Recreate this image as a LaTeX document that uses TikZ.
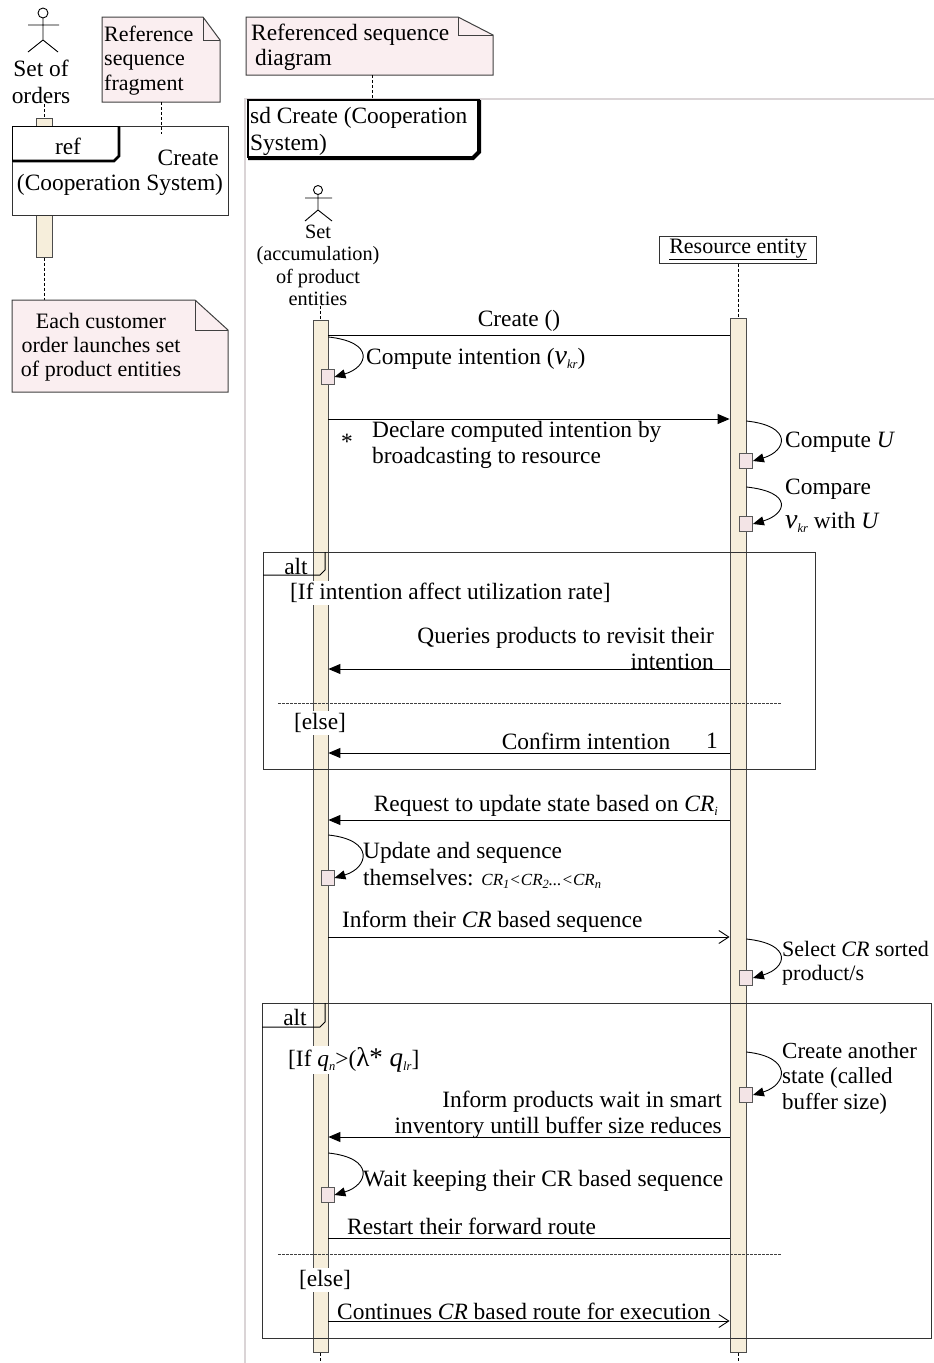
\documentclass[tikz,border=0pt]{standalone}
\usepackage{fontspec}
\setmainfont{Liberation Serif}
\usetikzlibrary{arrows.meta}
\definecolor{barfill}{RGB}{246,238,219}
\definecolor{notefill}{RGB}{250,238,240}
\definecolor{execfill}{RGB}{243,228,230}
\definecolor{framegray}{RGB}{218,212,214}
\newcommand{\lsub}[1]{\raisebox{-0.35ex}{\fontsize{12.5}{12.5}\selectfont\itshape #1}}
\newcommand{\vkr}{{\fontsize{28}{28}\selectfont\itshape v}\lsub{kr}}
\tikzset{
  every node/.style={inner sep=0pt, font=\fontsize{23.4}{26}\selectfont},
  smalltext/.style={font=\fontsize{22}{24.5}\selectfont},
  lifebar/.style={draw=black!70, fill=barfill, line width=0.8pt, minimum width=15pt},
  execbox/.style={draw=black!65, fill=execfill, line width=0.8pt, minimum width=13pt, minimum height=15pt},
  msgfill/.style={draw, line width=0.9pt, -{Triangle[length=12pt,width=10pt]}},
  msgopen/.style={draw, line width=0.9pt, -{Straight Barb[length=10pt,width=13pt,line width=0.9pt]}},
  msgplain/.style={draw, line width=0.9pt},
  selfcall/.style={draw, line width=0.9pt, -{Triangle[length=11pt,width=9pt]}},
  lifedash/.style={draw, line width=0.9pt, dash pattern=on 3pt off 2pt},
  sepline/.style={draw, black!75, line width=0.9pt, dash pattern=on 2.5pt off 1.5pt},
  altframe/.style={draw, black!80, line width=1pt},
  notebody/.style={draw=black!75, fill=notefill, line width=1pt},
  guard/.style={fill=white, inner sep=2pt},
}
\begin{document}
\begin{tikzpicture}[x=1pt,y=-1pt]
\useasboundingbox (0,0) rectangle (934,1363);
\fill[white] (0,0) rectangle (934,1363);

% ---------------- left part ----------------
% actor "Set of orders"
\draw[line width=0.9pt] (43,13) circle (5);
\draw[line width=0.9pt] (43,18) -- (43,40) (28,25) -- (59,25) (28,52) -- (43,40) -- (58,52);
\node[align=center, font=\fontsize{23.4}{27}\selectfont] (ordlbl) at (41,81.5) {Set of\\orders};

% activation of orders lifeline
\node[lifebar, minimum height=139pt, minimum width=16pt, anchor=north] (ordbar) at (44,118) {};
\draw[lifedash] (44,104) -- (ordbar.north);
% note: reference sequence fragment
\path[notebody] (102,17) -- (203,17) -- (220,40) -- (220,102) -- (102,102) -- cycle;
\draw[black!75, line width=0.9pt] (203,17) -- (203,40) -- (220,40);
\node[smalltext, align=left, anchor=west] (note1) at (104,60.5) {Reference\\sequence\\fragment};
% ref box
\node[draw=black!80, fill=white, line width=1pt, minimum width=216pt, minimum height=89pt, anchor=north west] (refbox) at (12,126) {};
\draw[lifedash] (161,102) -- (161,134);
\draw[line width=1pt] (12,126) -- (120,126) (12,126) -- (12,162);
\draw[line width=2.8pt] (119,127) -- (119,156) -- (114,161) -- (13,161);
\node (reftag) at (68,146) {ref};
\node[anchor=east] (refname) at (219,158) {Create};
\node (refname2) at (120,185) {(Cooperation System)};
\draw[lifedash] (ordbar.south) -- (44,300);
% note: each customer
\path[notebody] (12,300) -- (195,300) -- (228,330) -- (228,392) -- (12,392) -- cycle;
\draw[black!75, line width=0.9pt] (195,300) -- (195,330) -- (228,330);
\node[align=center, font=\fontsize{22}{24}\selectfont] (note2) at (101,347) {Each customer\\order launches set\\of product entities};

% ---------------- sd frame ----------------
\draw[framegray, line width=1.3pt] (934,99) -- (245,99) -- (245,1363);
\path[notebody] (246,17) -- (458,17) -- (493,35) -- (493,75) -- (246,75) -- cycle;
\draw[black!75, line width=0.9pt] (458,17) -- (458,35) -- (493,35);
\node[align=left, anchor=west, font=\fontsize{23.4}{25}\selectfont] (note3) at (251,47.5) {Referenced sequence\\\hspace*{4pt}diagram};
\draw[lifedash] (372,75) -- (372,100);
\draw[line width=2pt] (248,158) -- (248,100) -- (480,100);
\draw[line width=4pt] (479,100) -- (479,152) -- (473,158) -- (248,158);
\node[align=left, anchor=west, font=\fontsize{23.4}{27}\selectfont] (sdname) at (250,131.5) {sd Create (Cooperation\\System)};

% ---------------- lifelines ----------------
\draw[line width=0.9pt] (318,190) circle (4.5);
\draw[line width=0.9pt] (318,194.5) -- (318,210) (305,198) -- (332,198) (305,221) -- (318,210) -- (332,221);
\node[align=center, font=\fontsize{20.3}{22.3}\selectfont] (prodlbl) at (318,265.5) {Set\\(accumulation)\\of product\\entities};
\node[smalltext, draw=black!80, line width=1pt, minimum width=157pt, minimum height=27pt] (reslbl) at (738,249.5) {\underline{Resource entity}};

\node[lifebar, minimum height=1032pt, anchor=north] (barA) at (320.5,320) {};
\node[lifebar, minimum height=1034pt, minimum width=16pt, anchor=north] (barB) at (738,318) {};
\draw[lifedash] (320.5,306) -- (barA.north);
\draw[lifedash] (reslbl.south) -- (barB.north);
\draw[lifedash] (barA.south) -- (320.5,1363);
\draw[lifedash] (barB.south) -- (738,1363);

% ---------------- messages ----------------
% Create ()
\draw[msgplain] (barB.west |- 0,335) -- (barA.east |- 0,335);
\node (lcreate) at (519,321) {Create ()};
% self: compute intention
\node[execbox] (ex1) at (327.5,377) {};
\coordinate (s1) at (barA.east |- 0,337);
\draw[selfcall] (s1) .. controls +(47,5) and +(34,-10) .. (ex1.east);
\node[anchor=west] (lex1) at (366,359) {Compute intention (\vkr)};
% declare
\draw[msgfill] (barA.east |- 0,419) -- (barB.west |- 0,419);
\node (star) at (347,442) {*};
\node[align=left, anchor=west] (ldecl) at (372,445) {Declare computed intention by\\broadcasting to resource};
% self: compute U
\node[execbox] (ex2) at (746,461) {};
\coordinate (s2) at (barB.east |- 0,421);
\draw[selfcall] (s2) .. controls +(47,5) and +(34,-10) .. (ex2.east);
\node[anchor=west] (lex2) at (785,442) {Compute \textit{U}};
% self: compare
\node[execbox] (ex3) at (746,524) {};
\coordinate (s3) at (barB.east |- 0,487);
\draw[selfcall] (s3) .. controls +(47,5) and +(34,-10) .. (ex3.east);
\node[anchor=west] (lex3a) at (785,489) {Compare};
\node[anchor=west] (lex3b) at (785,522) {\vkr{} with \textit{U}};

% ---------------- alt 1 ----------------
\node[altframe, minimum width=552pt, minimum height=217pt, anchor=north west] (alt1) at (263,552) {};
\draw[line width=1pt] (alt1.north west |- 0,575) -- (320,575) -- (325,570) -- (325,552);
\node (alt1tag) at (296,566) {alt};
\node[guard, anchor=west] (g1) at (288,593) {[If intention affect utilization rate]};
\node[align=right, anchor=east] (lq) at (714,648) {Queries products to revisit their\\intention};
\draw[msgfill] (barB.west |- 0,669) -- (barA.east |- 0,669);
\draw[sepline] (278,703) -- (782,703);
\node[guard] (g2) at (320,723) {[else]};
\node (lconf) at (586,741) {Confirm intention};
\node (lone) at (712,741) {1};
\draw[msgfill] (barB.west |- 0,753) -- (barA.east |- 0,753);

% ---------------- middle messages ----------------
\node[anchor=east] (lreq) at (718,806) {Request to update state based on \textit{CR}\lsub{i}};
\draw[msgfill] (barB.west |- 0,820) -- (barA.east |- 0,820);
\node[execbox] (ex4) at (327.5,878) {};
\coordinate (s4) at (barA.east |- 0,835);
\draw[selfcall] (s4) .. controls +(47,5) and +(34,-10) .. (ex4.east);
\node[anchor=west] (lex4a) at (363,853) {Update and sequence};
\node[anchor=west] (lex4b) at (363,879) {themselves: {\fontsize{17}{17}\selectfont\itshape CR\lsub{1}<CR\lsub{2}...<CR\lsub{n}}};
\node[anchor=west] (linf) at (342,922) {Inform their \textit{CR} based sequence};
\draw[msgopen] (barA.east |- 0,937) -- (barB.west |- 0,937);
\node[execbox] (ex5) at (746,978) {};
\coordinate (s5) at (barB.east |- 0,939);
\draw[selfcall] (s5) .. controls +(47,5) and +(34,-10) .. (ex5.east);
\node[smalltext, align=left, anchor=west] (lex5) at (782,963) {Select \textit{CR} sorted\\product/s};

% ---------------- alt 2 ----------------
\node[altframe, minimum width=669pt, minimum height=335pt, anchor=north west] (alt2) at (262,1003) {};
\draw[line width=1pt] (alt2.north west |- 0,1027) -- (320,1027) -- (325,1022) -- (325,1003);
\node (alt2tag) at (295,1017) {alt};
\node[guard, anchor=west] (g3) at (286,1060) {[If \textit{q}\lsub{n}>({\fontsize{27}{27}\selectfont λ* \textit{q}}\lsub{lr}]};
\node[execbox] (ex6) at (746,1095) {};
\coordinate (s6) at (barB.east |- 0,1052);
\draw[selfcall] (s6) .. controls +(47,5) and +(34,-10) .. (ex6.east);
\node[align=left, anchor=west, font=\fontsize{23}{25.5}\selectfont] (lex6) at (782,1078) {Create another\\state (called\\buffer size)};
\node[align=right, anchor=east] (linv) at (722,1115) {Inform products wait in smart\\inventory untill buffer size reduces};
\draw[msgfill] (barB.west |- 0,1137) -- (barA.east |- 0,1137);
\node[execbox] (ex7) at (327.5,1195) {};
\coordinate (s7) at (barA.east |- 0,1153);
\draw[selfcall] (s7) .. controls +(47,5) and +(34,-10) .. (ex7.east);
\node[anchor=west] (lex7) at (363,1181) {Wait keeping their CR based sequence};
\node[anchor=west] (lrest) at (347,1226) {Restart their forward route};
\draw[msgplain] (barB.west |- 0,1238) -- (barA.east |- 0,1238);
\draw[sepline] (278,1254) -- (782,1254);
\node[guard] (g4) at (325,1280) {[else]};
\node[anchor=west] (lcont) at (337,1311) {Continues \textit{CR} based route for execution};
\draw[msgopen] (barA.east |- 0,1321) -- (barB.west |- 0,1321);
\end{tikzpicture}
\end{document}
